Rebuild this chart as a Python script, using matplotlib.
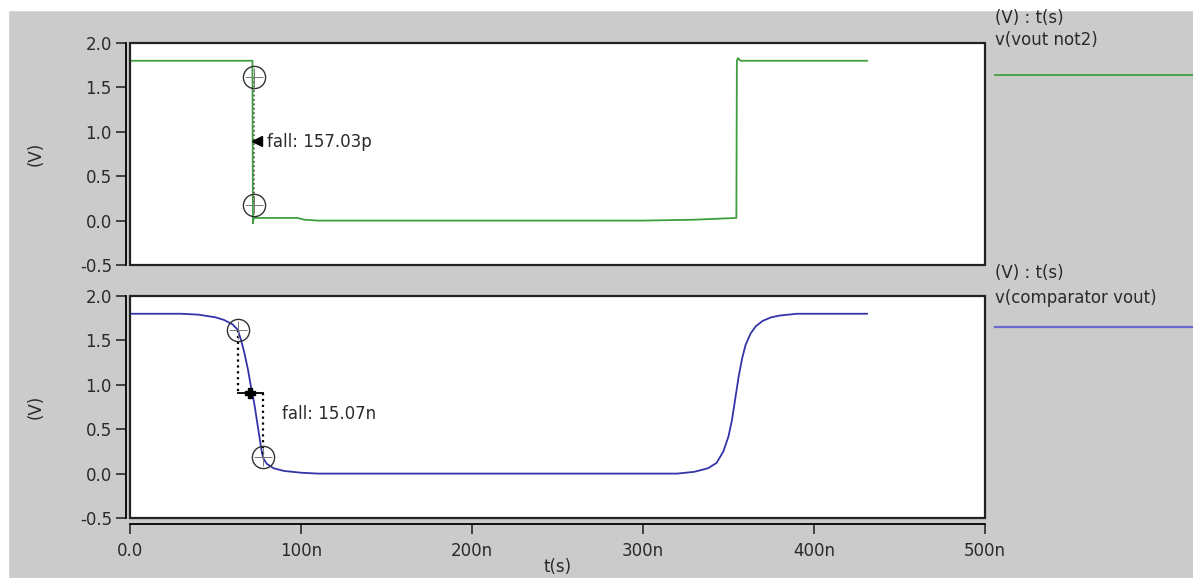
import numpy as np
import matplotlib.pyplot as plt
from matplotlib.patches import Rectangle

plt.rcParams['font.family'] = ['DejaVu Sans']

# green trace v(vout not2), time in ns
t_not2 = [0, 71.6, 71.9, 72.3, 80, 98, 102, 110, 200, 300, 330, 354.6, 354.9, 355.6, 357, 431]
v_not2 = [1.8, 1.8, -0.03, 0.03, 0.03, 0.03, 0.01, 0.0, 0.0, 0.0, 0.01, 0.03, 1.8, 1.83, 1.8, 1.8]

# blue trace v(comparator vout)
t_cmp = [0, 30, 40, 50, 55, 60, 63, 65, 67, 69, 71, 72, 73, 75, 77, 78, 80, 84, 90, 100, 110,
         200, 300, 320, 330, 338, 343, 347, 350, 352, 354, 356, 358, 360, 363, 366, 370, 375,
         380, 390, 431]
v_cmp = [1.8, 1.8, 1.79, 1.76, 1.73, 1.68, 1.62, 1.5, 1.35, 1.17, 0.95, 0.86, 0.75, 0.5, 0.25,
         0.17, 0.11, 0.06, 0.03, 0.01, 0.0,
         0.0, 0.0, 0.0, 0.02, 0.06, 0.12, 0.25, 0.42, 0.6, 0.85, 1.1, 1.3, 1.45, 1.58, 1.66,
         1.72, 1.76, 1.78, 1.8, 1.8]

# measurement cursors
top_meas_t = [72.3, 72.3]
top_meas_v = [1.62, 0.18]
top_mid = (74.5, 0.9)
bot_meas_t = [63, 77.5]
bot_meas_v = [1.62, 0.19]
bot_mid_v = 0.91
top_label = "fall: 157.03p"
bot_label = "fall: 15.07n"

xticks = [0, 100, 200, 300, 400, 500]
xtick_labels = ["0.0", "100n", "200n", "300n", "400n", "500n"]
yticks = [-0.5, 0.0, 0.5, 1.0, 1.5, 2.0]

W, H = 1193, 578
BG = '#cbcbcb'
GREEN = '#3f9f3f'
BLUE = '#3434a8'
TXT = '#2a2a2a'
FS = 12


def rect(l, t, r, b):
    return [l / W, 1 - b / H, (r - l) / W, (b - t) / H]


fig = plt.figure(figsize=(W / 100, H / 100), dpi=100, facecolor=BG)
# white strip along top and left edge
fig.patches.append(Rectangle((0, 1 - 10 / H), 1, 10 / H, transform=fig.transFigure,
                             color='white', zorder=0))
fig.patches.append(Rectangle((0, 0), 8 / W, 1, transform=fig.transFigure,
                             color='white', zorder=0))

ax1 = fig.add_axes(rect(130, 43, 985, 265))
ax2 = fig.add_axes(rect(130, 296, 985, 518))

for ax in (ax1, ax2):
    ax.set_xlim(0, 500)
    ax.set_ylim(-0.5, 2.0)
    ax.set_facecolor('white')
    for s in ax.spines.values():
        s.set_visible(False)
    ax.add_patch(Rectangle((0, 0), 1, 1, transform=ax.transAxes, fill=False,
                           lw=1.6, ec='#222222', clip_on=False, zorder=5))
    ax.spines['left'].set_visible(True)
    ax.spines['left'].set_position(('outward', 3))
    ax.spines['left'].set_linewidth(1.3)
    ax.set_yticks(yticks)
    ax.set_yticklabels([f"{v:.1f}" for v in yticks])
    ax.tick_params(axis='y', direction='out', length=7, width=1.2, pad=3,
                   labelsize=FS, colors=TXT)
    ax.set_ylabel("(V)", fontsize=FS, color=TXT)
    ax.yaxis.label.set_va('center')
    ax.yaxis.set_label_coords(-(130 - 36) / 855, 0.5)

ax1.set_xticks([])
ax2.spines['bottom'].set_visible(True)
ax2.spines['bottom'].set_position(('outward', 4))
ax2.spines['bottom'].set_linewidth(1.3)
ax2.set_xticks(xticks)
ax2.set_xticklabels(xtick_labels)
ax2.tick_params(axis='x', direction='out', length=7, width=1.2, pad=6,
                labelsize=FS, colors=TXT)
ax2.set_xlabel("t(s)", fontsize=FS, color=TXT)
ax2.xaxis.label.set_va('center')
ax2.xaxis.set_label_coords(0.5, -(567 - 518) / 222)

# traces
ax1.plot(t_not2, v_not2, color=GREEN, lw=1.3)
ax2.plot(t_cmp, v_cmp, color=BLUE, lw=1.3)

# top cursor
ax1.plot(top_meas_t, top_meas_v, ls=':', color='#555555', lw=1.2)
ax1.plot(top_meas_t, top_meas_v, 'o', ms=16, mfc='none', mec='#333333', mew=1.0)
ax1.plot(top_meas_t, top_meas_v, '+', ms=13, color='#777777', mew=0.7)
ax1.plot([top_mid[0]], [top_mid[1]], '<', ms=7, color='black')
ax1.text(top_mid[0] + 5.5, top_mid[1] - 0.02, top_label, fontsize=FS, va='center',
         color=TXT)

# bottom cursor
ax2.plot([bot_meas_t[0], bot_meas_t[0]], [bot_meas_v[0], bot_mid_v], ls=':', color='black', lw=1.6)
ax2.plot([bot_meas_t[1], bot_meas_t[1]], [bot_mid_v, bot_meas_v[1]], ls=':', color='black', lw=1.6)
ax2.plot(bot_meas_t, [bot_mid_v, bot_mid_v], color='black', lw=1.3)
ax2.plot([np.mean(bot_meas_t)], [bot_mid_v], 'P', ms=7, color='black')
ax2.plot(bot_meas_t, bot_meas_v, 'o', ms=16, mfc='none', mec='#333333', mew=1.0)
ax2.plot(bot_meas_t, bot_meas_v, '+', ms=13, color='#777777', mew=0.7)
ax2.text(89, 0.67, bot_label, fontsize=FS, va='center', color=TXT)

# legend panels on the right
fig.text(995 / W, 1 - 18 / H, "(V) : t(s)", fontsize=FS, va='center', color=TXT)
fig.text(995 / W, 1 - 40 / H, "v(vout not2)", fontsize=FS, va='center', color=TXT)
fig.add_artist(plt.Line2D([995 / W, 1], [1 - 75 / H] * 2, color=GREEN, lw=1.3))
fig.text(995 / W, 1 - 273 / H, "(V) : t(s)", fontsize=FS, va='center', color=TXT)
fig.text(995 / W, 1 - 298 / H, "v(comparator vout)", fontsize=FS, va='center', color=TXT)
fig.add_artist(plt.Line2D([995 / W, 1], [1 - 327 / H] * 2, color='#6a6ad0', lw=1.6))

fig.savefig("out.png", dpi=100, facecolor=BG)
